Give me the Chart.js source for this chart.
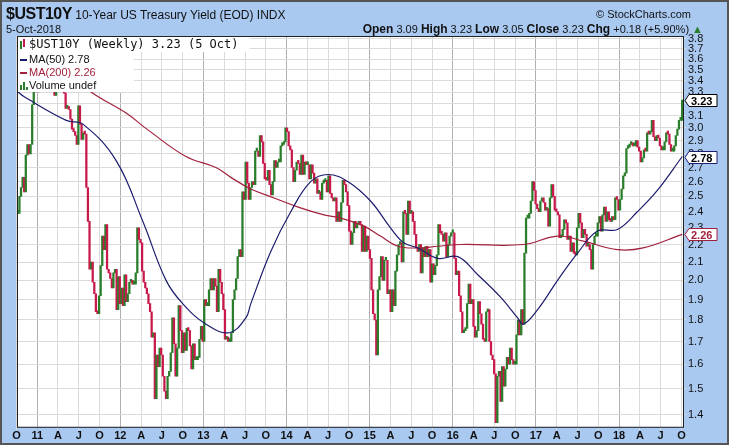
<!DOCTYPE html>
<html>
<head>
<meta charset="utf-8">
<script src="https://cdn.jsdelivr.net/npm/chart.js@4"></script>
<style>
  html, body { margin: 0; padding: 0; background: #fff; }
  #wrap { position: relative; width: 729px; height: 445px; background: #a9c9f1; box-sizing: border-box; border: 2px solid #555; overflow: hidden; }
  canvas { position: absolute; left: -2px; top: -2px; }
  .hd { position: absolute; font-family: Arial, "Liberation Sans", sans-serif; color: #111; white-space: nowrap; }
</style>
</head>
<body>
<div id="wrap">
  <canvas id="c" width="729" height="445"></canvas>
  <div class="hd" style="left:4px;top:3px;font-size:12px"><b style="font-size:16px;letter-spacing:-0.5px">$UST10Y</b> 10-Year US Treasury Yield (EOD) INDX</div>
  <div class="hd" style="right:36px;top:6px;font-size:11px">© StockCharts.com</div>
  <div class="hd" style="left:4px;top:21px;font-size:11px">5-Oct-2018</div>
  <div class="hd" style="right:24px;top:20px;font-size:11px"><b style="font-size:12px">Open</b> 3.09 <b style="font-size:12px">High</b> 3.23 <b style="font-size:12px">Low</b> 3.05 <b style="font-size:12px">Close</b> 3.23 <b style="font-size:12px">Chg</b> +0.18 (+5.90%) <span style="color:#2a7d2a">▲</span></div>
</div>
<script>
// weekly closes, 8-Oct-2010 .. 5-Oct-2018
const closes2010 = [2.39,2.50,2.56,2.63,2.53,2.79,2.87,2.80,2.87,3.19,3.32,3.39,3.30];
const closes2011 = [3.32,3.33,3.40,3.37, 3.64,3.63,3.58,3.42, 3.49,3.40,3.27,3.44, 3.45,3.58,3.41,3.40,3.29,
  3.16,3.17,3.15,3.07, 2.99,2.97,2.94,2.87,3.18, 3.03,2.91,2.96,2.95, 2.56,2.34,2.06,2.10,
  1.99,1.93,1.84,1.83,1.92, 2.08,2.25,2.17,2.32, 2.06,2.04,2.01,1.96, 2.04,2.06,1.85,2.02,1.88];
const closes2012 = [1.96,1.87,2.03,1.89, 1.93,1.99,2.00,1.98, 1.98,2.04,2.30,2.23,2.21, 2.05,1.99,1.96,1.93,
  1.88,1.84,1.72,1.74, 1.46,1.64,1.59,1.67,1.64, 1.55,1.49,1.46,1.55, 1.57,1.65,1.81,1.69,1.55,
  1.67,1.87,1.75,1.65, 1.74,1.66,1.76,1.75, 1.68,1.58,1.69,1.62,1.62, 1.63,1.71,1.77,1.70];
const closes2013 = [1.90,1.87,1.87,1.95, 2.01,1.95,2.01,1.97,1.84, 2.06,1.99,1.93,1.85, 1.71,1.72,1.70,1.70,
  1.74,1.90,1.95,2.01,2.13, 2.17,2.13,2.53,2.48, 2.74,2.59,2.48,2.56, 2.60,2.58,2.82,2.82,2.78,
  2.94,2.89,2.73,2.62, 2.61,2.68,2.58,2.51, 2.60,2.75,2.70,2.74,2.74, 2.86,2.87,2.89,3.00];
const closes2014 = [2.97,2.86,2.83,2.70, 2.60,2.68,2.74,2.73,2.65, 2.79,2.65,2.74,2.72, 2.72,2.62,2.72,2.66,
  2.59,2.62,2.52,2.53,2.48, 2.59,2.60,2.61,2.53, 2.64,2.52,2.49,2.47, 2.49,2.34,2.40,2.34,
  2.46,2.61,2.58,2.53, 2.44,2.28,2.20,2.27,2.34, 2.30,2.32,2.34,2.32, 2.16,2.31,2.16,2.25,2.17];
const closes2015 = [2.12,1.95,1.83,1.80,1.64, 1.95,2.02,2.13,2.00, 2.11,2.11,1.93,1.95, 1.84,1.95,1.87,2.05,
  2.14,2.20,2.21,2.10, 2.40,2.39,2.26,2.47, 2.39,2.40,2.34,2.26,2.18, 2.16,2.20,2.04,2.18,
  2.13,2.19,2.13,2.17, 1.99,2.09,2.03,2.08,2.14, 2.32,2.27,2.26,2.22, 2.27,2.13,2.20,2.25,2.27];
const closes2016 = [2.27,2.12,2.03,2.05,1.92, 1.84,1.74,1.75,1.76, 1.88,1.98,1.88,1.90, 1.77,1.72,1.75,1.89,1.83,
  1.78,1.71,1.70,1.84, 1.85,1.70,1.64,1.62,1.56, 1.37,1.55,1.57,1.45, 1.59,1.51,1.58,1.63,
  1.60,1.67,1.62,1.60,1.60, 1.73,1.80,1.73,1.85, 1.78,2.15,2.36,2.36, 2.39,2.47,2.60,2.54,2.45];
const closes2017 = [2.42,2.40,2.47,2.49, 2.46,2.41,2.42,2.31,2.49, 2.58,2.50,2.41,2.40, 2.38,2.24,2.25,2.29,
  2.35,2.33,2.23,2.25, 2.16,2.21,2.15,2.14,2.30, 2.39,2.33,2.24,2.29, 2.26,2.19,2.20,2.17,
  2.06,2.20,2.25,2.25,2.33, 2.37,2.28,2.38,2.43, 2.34,2.40,2.35,2.34, 2.37,2.35,2.49,2.48,2.41];
const closes2018 = [2.48,2.55,2.64,2.66, 2.84,2.85,2.87,2.87,2.86, 2.86,2.90,2.85,2.82,2.74, 2.77,2.83,2.82,2.96,
  2.95,2.97,3.06,2.93, 2.90,2.94,2.92,2.86, 2.83,2.83,2.89,2.96, 2.95,2.87,2.82,2.82,2.86,
  2.94,2.99,3.06,3.06, 3.23];

// moving averages (decimal year, value)
const ma50Years = [2010.77,2010.84,2011.35,2011.55,2011.95,2012.27,2012.55,2012.75,2013.03,2013.31,2013.51,2013.57,2013.81,
  2014.05,2014.29,2014.50,2014.74,2015.01,2015.25,2015.41,2015.58,2015.82,2016.06,2016.30,2016.58,2016.78,2016.85,
  2017.02,2017.26,2017.50,2017.74,2017.98,2018.22,2018.46,2018.76];
const ma50Values = [3.30,3.26,3.06,3.03,2.75,2.34,2.00,1.88,1.78,1.74,1.81,1.88,2.16,
  2.40,2.60,2.65,2.60,2.47,2.30,2.21,2.18,2.12,2.13,2.03,1.91,1.81,1.78,
  1.85,2.00,2.15,2.28,2.29,2.40,2.54,2.78];
const ma200Years = [2010.77,2011.30,2011.71,2012.07,2012.34,2012.79,2013.15,2013.33,2013.57,2013.85,2014.14,2014.45,2014.65,
  2014.93,2015.13,2015.34,2015.58,2015.82,2016.10,2016.85,2017.26,2017.57,2017.98,2018.29,2018.76];
const ma200Values = [3.72,3.48,3.27,3.12,2.98,2.78,2.70,2.63,2.55,2.49,2.43,2.38,2.36,
  2.31,2.25,2.19,2.18,2.19,2.20,2.20,2.25,2.22,2.17,2.18,2.26];

const yTicks = [1.4,1.5,1.6,1.7,1.8,1.9,2.0,2.1,2.2,2.3,2.4,2.5,2.6,2.7,2.8,2.9,3.0,3.1,3.2,3.3,3.4,3.5,3.6,3.7,3.8];
const quarterLetters = { 0: null, 0.25: 'A', 0.5: 'J', 0.75: 'O' };

const closes = [].concat(closes2010, closes2011, closes2012, closes2013, closes2014,
  closes2015, closes2016, closes2017, closes2018);
const t0 = 2010 + 280 / 365;
const weekYear = i => t0 + i * 7 / 365.25;

const bars = closes.map((c, i) => ({ x: weekYear(i), y: [i ? closes[i - 1] : c, c] }));
const barColors = closes.map((c, i) => (i && c < closes[i - 1]) ? '#c8194b' : '#2a7d2a');
const ma50 = ma50Years.map((x, i) => ({ x, y: ma50Values[i] }));
const ma200 = ma200Years.map((x, i) => ({ x, y: ma200Values[i] }));

const plotBg = {
  id: 'plotBg',
  beforeDraw(chart) {
    const { ctx, chartArea: a } = chart;
    ctx.save();
    ctx.fillStyle = '#fff';
    ctx.fillRect(a.left, a.top, a.width, a.height);
    ctx.restore();
  },
  afterDraw(chart) {
    const { ctx, chartArea: a, scales: { y } } = chart;
    ctx.save();
    ctx.strokeStyle = '#222';
    ctx.lineWidth = 1;
    ctx.strokeRect(a.left + 0.5, a.top + 0.5, a.width, a.height);
    // legend box
    ctx.fillStyle = '#fff';
    ctx.fillRect(a.left + 1, a.top + 1, 232, 15);
    ctx.fillRect(a.left + 1, a.top + 16, 116, 40);
    ctx.textBaseline = 'middle';
    ctx.fillStyle = '#111';
    ctx.font = '12px "DejaVu Sans Mono", monospace';
    ctx.fillText('$UST10Y (Weekly) 3.23 (5 Oct)', a.left + 12, a.top + 9);
    ctx.fillStyle = '#2a7d2a'; ctx.fillRect(a.left + 3, a.top + 5, 2, 8);
    ctx.fillStyle = '#c8194b'; ctx.fillRect(a.left + 6, a.top + 3, 2, 8);
    ctx.font = '11px Arial, "Liberation Sans", sans-serif';
    const rows = [['MA(50) 2.78', '#1c1c6e', '#111'], ['MA(200) 2.26', '#a3203c', '#a3203c'], ['Volume undef', null, '#111']];
    rows.forEach((r, k) => {
      const ty = a.top + 24 + k * 13;
      if (r[1]) { ctx.fillStyle = r[1]; ctx.fillRect(a.left + 3, ty - 1, 7, 2); }
      else {
        ctx.fillStyle = '#2a7d2a';
        [5, 8, 3].forEach((h, j) => ctx.fillRect(a.left + 3 + j * 3, ty + 4 - h, 2, h));
      }
      ctx.fillStyle = r[2];
      ctx.fillText(r[0], a.left + 12, ty);
    });
    // value tags on the right axis
    const tags = [[3.23, '#000', '#000'], [2.78, '#1c1c6e', '#000'], [2.26, '#a3203c', '#a3203c']];
    ctx.font = 'bold 11px Arial, "Liberation Sans", sans-serif';
    tags.forEach(([v, border, txt]) => {
      const py = Math.round(y.getPixelForValue(v)) + 0.5;
      const x0 = a.right + 2;
      ctx.fillStyle = '#fff';
      ctx.strokeStyle = border;
      ctx.beginPath();
      ctx.moveTo(x0, py); ctx.lineTo(x0 + 4, py - 6); ctx.lineTo(x0 + 32, py - 6);
      ctx.lineTo(x0 + 32, py + 6); ctx.lineTo(x0 + 4, py + 6); ctx.closePath();
      ctx.fill(); ctx.stroke();
      ctx.fillStyle = txt;
      ctx.fillText(v.toFixed(2), x0 + 6, py + 1);
    });
    ctx.restore();
  }
};

new Chart(document.getElementById('c'), {
  data: {
    datasets: [
      { type: 'line', data: ma200, borderColor: '#a3203c', borderWidth: 1.2, pointRadius: 0, tension: 0.4, order: 1 },
      { type: 'line', data: ma50, borderColor: '#1c1c6e', borderWidth: 1.2, pointRadius: 0, tension: 0.4, order: 0 },
      { type: 'bar', data: bars, backgroundColor: barColors, barThickness: 1.6, minBarLength: 3, order: 2 }
    ]
  },
  options: {
    responsive: false,
    animation: false,
    events: [],
    layout: { padding: { left: 17, top: 36, right: 0, bottom: 2 } },
    plugins: { legend: { display: false }, tooltip: { enabled: false } },
    scales: {
      x: {
        type: 'linear', offset: false, min: t0 - 0.01, max: weekYear(closes.length - 1) + 0.01,
        afterBuildTicks: s => {
          const t = [];
          for (let q = 2010.75; q <= 2018.76; q += 0.25) t.push({ value: q });
          s.ticks = t;
        },
        ticks: {
          autoSkip: false, maxRotation: 0, padding: 0, color: '#111',
          font: { family: 'Arial, "Liberation Sans", sans-serif', size: 11, weight: 'bold' },
          callback: v => {
            const f = Math.round((v - Math.floor(v + 1e-6)) * 4) / 4;
            return f === 0 ? String(Math.round(v)).slice(2) : quarterLetters[f];
          }
        },
        grid: {
          offset: false,
          color: c => (c.tick && Math.abs(c.tick.value - Math.round(c.tick.value)) < 1e-6) ? '#b0b0b0' : '#dadada',
          drawTicks: true, tickLength: 3
        },
        border: { display: false }
      },
      y: {
        type: 'logarithmic', position: 'right', min: 1.355, max: 3.83,
        afterBuildTicks: s => { s.ticks = yTicks.map(v => ({ value: v })); },
        afterFit: s => { s.width = 46; },
        ticks: {
          autoSkip: false, padding: 2, color: '#111',
          font: { family: 'Arial, "Liberation Sans", sans-serif', size: 11 },
          callback: v => v.toFixed(1)
        },
        grid: { color: '#dadada', tickLength: 3 },
        border: { display: false }
      }
    }
  },
  plugins: [plotBg]
});
</script>
</body>
</html>
